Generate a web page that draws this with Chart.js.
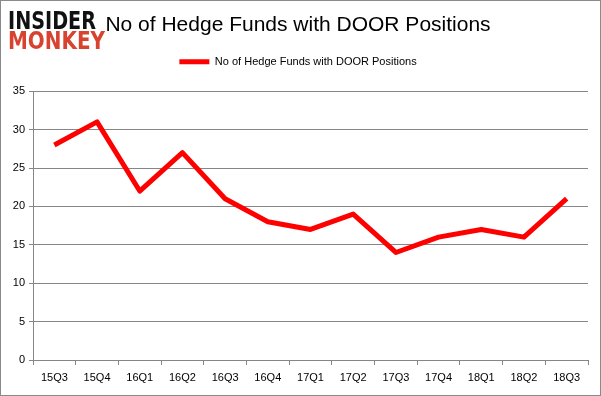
<!DOCTYPE html>
<html>
<head>
<meta charset="utf-8">
<script src="https://cdn.jsdelivr.net/npm/chart.js@4"></script>
<style>
  body { margin: 0; background: #fff; }
  #wrap { width: 601px; height: 396px; }
</style>
</head>
<body>
<div id="wrap"><canvas id="grafica" width="601" height="396"></canvas></div>
<script>
const quarters = ["15Q3", "15Q4", "16Q1", "16Q2", "16Q3", "16Q4", "17Q1", "17Q2", "17Q3", "17Q4", "18Q1", "18Q2", "18Q3"];
const hedgeFunds = [28, 31, 22, 27, 21, 18, 17, 19, 14, 16, 17, 16, 21];
const yTicks = [0, 5, 10, 15, 20, 25, 30, 35];

const fontFam = "'Liberation Sans', Arial, sans-serif";

// marco gris y logo
const extras = {
  id: "extras",
  afterDraw(chart) {
    const ctx = chart.ctx;
    ctx.save();
    ctx.strokeStyle = "#8a8a8a";
    ctx.lineWidth = 1;
    ctx.strokeRect(0.5, 0.5, 600, 395);

    ctx.fillStyle = "#fff";
    ctx.fillRect(6, 6, 100, 46);
    ctx.textBaseline = "alphabetic";
    ctx.font = "bold 24px 'DejaVu Sans', sans-serif";
    let w = ctx.measureText("INSIDER").width;
    ctx.save();
    ctx.translate(8, 29);
    ctx.scale(88 / w, 1);
    ctx.fillStyle = "#111";
    ctx.fillText("INSIDER", 0, 0);
    ctx.restore();
    w = ctx.measureText("MONKEY").width;
    ctx.save();
    ctx.translate(8, 49);
    ctx.scale(97 / w, 1);
    ctx.fillStyle = "#d8432f";
    ctx.fillText("MONKEY", 0, 0);
    ctx.restore();
    ctx.restore();
  }
};

new Chart(document.getElementById("grafica").getContext("2d"), {
  type: "line",
  data: {
    labels: quarters,
    datasets: [{
      label: "No of Hedge Funds with DOOR Positions",
      data: hedgeFunds,
      borderColor: "#ff0000",
      backgroundColor: "#ff0000",
      borderWidth: 5,
      pointRadius: 0,
      borderJoinStyle: "round",
      tension: 0
    }]
  },
  options: {
    responsive: false,
    animation: false,
    layout: { padding: { top: 8, left: 8, right: 13, bottom: 0 } },
    plugins: {
      title: {
        display: true,
        text: "No of Hedge Funds with DOOR Positions",
        color: "#000",
        font: { family: fontFam, size: 21, weight: "normal" },
        padding: { top: 5, bottom: 8 }
      },
      // hueco entre la leyenda y el área del gráfico
      subtitle: {
        display: true,
        text: "",
        weight: 500,
        font: { size: 2 },
        padding: { top: 0, bottom: 11.6 }
      },
      legend: {
        position: "top",
        labels: {
          usePointStyle: true,
          pointStyle: "line",
          pointStyleWidth: 30,
          color: "#000",
          font: { family: fontFam, size: 11 },
          padding: 10
        }
      },
      tooltip: { enabled: false }
    },
    scales: {
      x: {
        offset: true,
        grid: { offset: true, drawOnChartArea: false, color: "#868686", tickLength: 5 },
        border: { color: "#868686" },
        ticks: { color: "#000", font: { family: fontFam, size: 11 }, maxRotation: 0, padding: 6 },
        afterFit: s => { s.height = 36; }
      },
      y: {
        min: 0,
        max: 35,
        afterBuildTicks: s => { s.ticks = yTicks.map(v => ({ value: v })); },
        grid: { color: "#868686", tickLength: 4 },
        border: { color: "#868686" },
        ticks: { color: "#000", font: { family: fontFam, size: 11 }, padding: 4 },
        afterFit: s => { s.width = 25; }
      }
    }
  },
  plugins: [extras]
});
</script>
</body>
</html>
